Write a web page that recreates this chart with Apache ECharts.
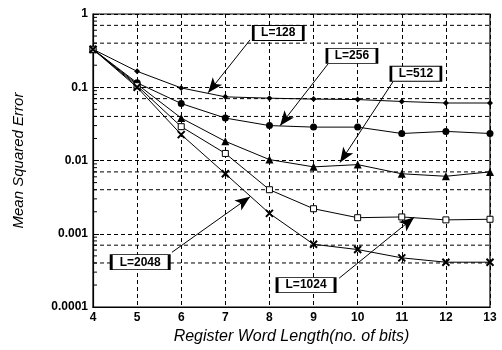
<!DOCTYPE html>
<html>
<head>
<meta charset="utf-8">
<script src="https://cdn.jsdelivr.net/npm/echarts@6/dist/echarts.min.js"></script>
<style>
  html, body { margin: 0; padding: 0; background: #fff; }
  #chart { width: 502px; height: 350px; }
</style>
</head>
<body>
<div id="chart"></div>
<script>
// Register word length vs. mean squared error, one curve per block length L.
const bits = [4, 5, 6, 7, 8, 9, 10, 11, 12, 13];
const mseL128  = [0.33, 0.165, 0.098, 0.074, 0.071, 0.069, 0.068, 0.064, 0.061, 0.061];
const mseL256  = [0.33, 0.115, 0.060, 0.038, 0.030, 0.0286, 0.0286, 0.0234, 0.025, 0.0234];
const mseL512  = [0.33, 0.11, 0.038, 0.0183, 0.0103, 0.0082, 0.0088, 0.0066, 0.0061, 0.0070];
const mseL1024 = [0.33, 0.105, 0.029, 0.0125, 0.0040, 0.0022, 0.00166, 0.0017, 0.00155, 0.00158];
const mseL2048 = [0.33, 0.10, 0.0226, 0.0066, 0.0019, 0.00072, 0.00061, 0.00047, 0.00041, 0.00041];

// extra dashed lines inside each decade, and log minor ticks
const minorGridValues = [0.7, 0.4, 0.07, 0.04, 0.007, 0.004, 0.0007, 0.0004];
const minorTickValues = [];
[0.0001, 0.001, 0.01, 0.1].forEach(d => { for (let k = 2; k <= 9; k++) minorTickValues.push(+(d * k).toPrecision(2)); });

const FONT = '"Liberation Sans", Arial, sans-serif';
const ink = '#000';

// callout boxes: [label centre], arrow [from, tip], in data units
const callouts = {
  'L=128':  { box: [8.2, 0.55],    from: [7.56, 0.443],   tip: [6.61, 0.0842] },
  'L=256':  { box: [9.87, 0.268],  from: [9.33, 0.209],   tip: [8.24, 0.0299] },
  'L=512':  { box: [11.32, 0.153], from: [10.8, 0.119],   tip: [9.6, 0.0094] },
  'L=1024': { box: [8.83, 0.0002], from: [9.58, 0.000248], tip: [11.28, 0.00168] },
  'L=2048': { box: [5.07, 0.00041], from: [5.79, 0.00056], tip: [7.56, 0.0032] },
};

function pairs(ys) { return bits.map((x, i) => [x, ys[i]]); }

function curve(name, ys, symbol, size, fill) {
  const c = callouts[name];
  return {
    name, type: 'line', data: pairs(ys), z: 5,
    symbol, symbolSize: size, showSymbol: true,
    lineStyle: { color: ink, width: 1 },
    itemStyle: { color: fill, borderColor: ink, borderWidth: fill === '#fff' ? 1 : (symbol.startsWith('path') ? 2 : 0) },
    emphasis: { disabled: true },
    markLine: {
      silent: true, symbol: ['none', 'arrow'], symbolSize: [9, 15],
      lineStyle: { color: ink, width: 1, type: 'solid' }, label: { show: false },
      data: [[{ coord: c.from }, { coord: c.tip }]],
    },
    markPoint: {
      silent: true, symbol: 'rect', symbolSize: [name.length > 5 ? 58 : 50, 15],
      itemStyle: { color: '#fff', borderColor: ink, borderWidth: 1.5 },
      label: { show: true, position: 'inside', formatter: name, color: ink, fontFamily: FONT, fontSize: 12, fontWeight: 'bold' },
      data: [{ coord: c.box }],
    },
  };
}

const chart = echarts.init(document.getElementById('chart'), null, { renderer: 'canvas' });

chart.setOption({
  animation: false,
  backgroundColor: '#fff',
  grid: { left: 93, right: 12, top: 14, bottom: 42, show: true, borderColor: ink, borderWidth: 1.2, backgroundColor: 'transparent' },
  xAxis: {
    type: 'value', min: 4, max: 13, interval: 1,
    name: 'Register Word Length(no. of bits)', nameLocation: 'middle', nameGap: 21,
    nameTextStyle: { fontFamily: FONT, fontSize: 16, fontStyle: 'italic', color: ink },
    axisLine: { show: true, lineStyle: { color: ink, width: 1.2 } },
    axisTick: { show: false },
    axisLabel: { color: ink, fontFamily: FONT, fontSize: 12, fontWeight: 'bold', margin: 5 },
    splitLine: { show: true, lineStyle: { color: ink, width: 1, type: [4, 3] } },
  },
  yAxis: {
    type: 'log', logBase: 10, min: 0.0001, max: 1,
    name: 'Mean Squared Error', nameLocation: 'middle', nameGap: 67,
    nameTextStyle: { fontFamily: FONT, fontSize: 15, fontStyle: 'italic', color: ink },
    axisLine: { show: true, lineStyle: { color: ink, width: 1.2 } },
    axisTick: { show: true, inside: true, length: 6, lineStyle: { color: ink } },
    axisLabel: {
      color: ink, fontFamily: FONT, fontSize: 12, fontWeight: 'bold', margin: 5,
      formatter: v => String(Number(Number(v).toPrecision(1))),
    },
    splitLine: { show: true, lineStyle: { color: ink, width: 1, type: [4, 3] } },
  },
  series: [
    {
      name: 'minor-grid', type: 'custom', silent: true, z: 1,
      data: minorGridValues.map(v => [4, v]),
      renderItem(params, api) {
        const p = api.coord([api.value(0), api.value(1)]);
        const cs = params.coordSys;
        return { type: 'line', shape: { x1: cs.x, y1: p[1], x2: cs.x + cs.width, y2: p[1] },
          style: { stroke: ink, lineWidth: 1, lineDash: [4, 3] } };
      },
    },
    {
      name: 'minor-ticks', type: 'custom', silent: true, z: 2,
      data: minorTickValues.map(v => [4, v]),
      renderItem(params, api) {
        const p = api.coord([api.value(0), api.value(1)]);
        return { type: 'line', shape: { x1: p[0], y1: p[1], x2: p[0] + 4, y2: p[1] },
          style: { stroke: ink, lineWidth: 1 } };
      },
    },
    curve('L=128', mseL128, 'diamond', 6, ink),
    curve('L=256', mseL256, 'circle', 7, ink),
    curve('L=512', mseL512, 'triangle', 8, ink),
    curve('L=1024', mseL1024, 'rect', 6, '#fff'),
    curve('L=2048', mseL2048, 'path://M0,0L10,10M10,0L0,10', 7, ink),
  ],
});
</script>
</body>
</html>
